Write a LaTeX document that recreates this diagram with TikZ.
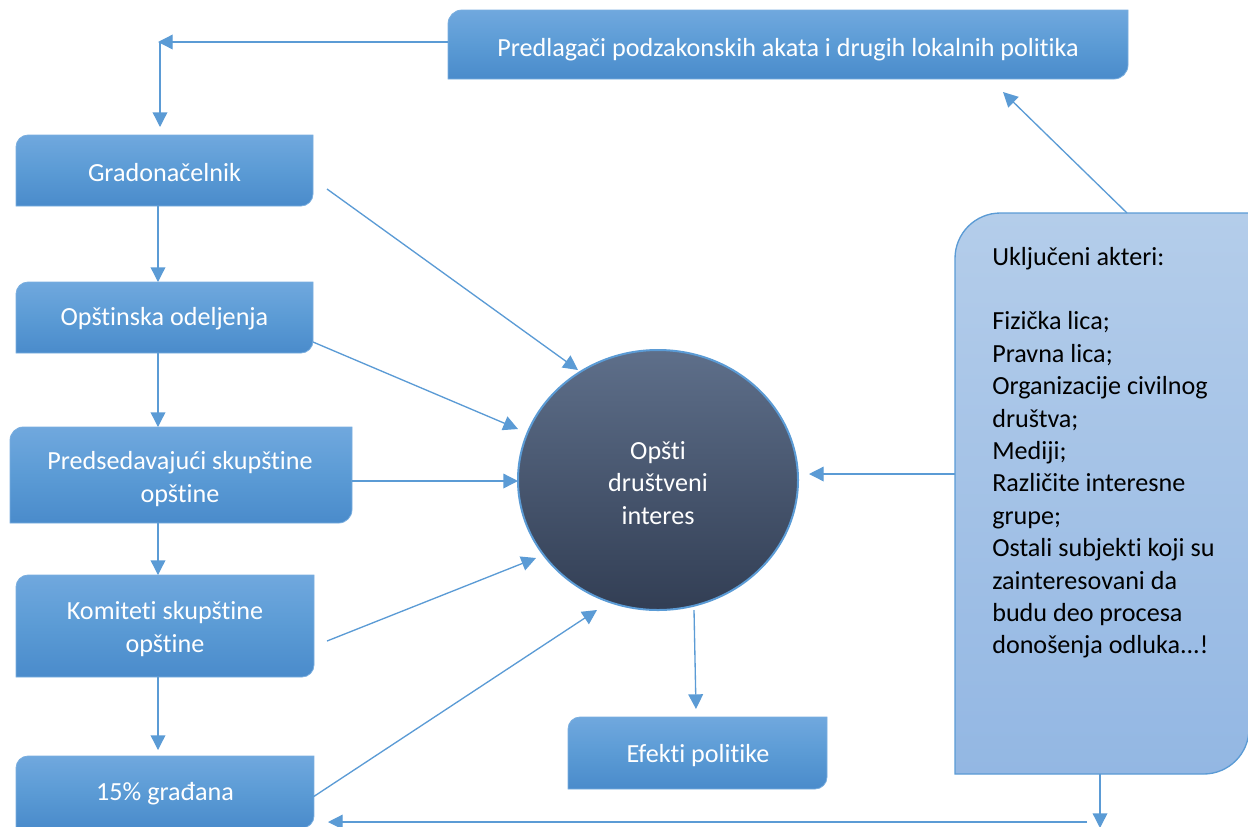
\documentclass[tikz,border=0pt]{standalone}
\usepackage{fontspec}
\setmainfont{Carlito}[Ligatures=NoCommon]
\usetikzlibrary{arrows.meta,calc,shapes.geometric}

\definecolor{linkblue}{HTML}{5B9BD5}
\definecolor{boxtop}{HTML}{70A8DE}
\definecolor{boxmid}{HTML}{5B9BD5}
\definecolor{boxbot}{HTML}{4A8BCB}
\definecolor{boxedge}{HTML}{7AAEDF}
\definecolor{paletop}{HTML}{B4CDEA}
\definecolor{palebot}{HTML}{93B7E3}
\definecolor{hubtop}{HTML}{5E6F8A}
\definecolor{hubbot}{HTML}{323E54}

\newcommand\lbl{\fontsize{19.6pt}{24.3pt}\selectfont}

% outline with the top-left and bottom-right corners rounded
\newcommand\cornerpath[2]{(#1.south west) -- ([yshift=-#2]#1.north west)
  arc[start angle=180,end angle=90,radius=#2] -- (#1.north east)
  -- ([yshift=#2]#1.south east) arc[start angle=0,end angle=-90,radius=#2] -- cycle}

\tikzset{
  slot/.style={rectangle, inner sep=0pt, outer sep=0pt},
  bluebox/.style={top color=boxtop, bottom color=boxbot, middle color=boxmid,
    draw=boxedge, line width=0.6pt},
  palebox/.style={top color=paletop, bottom color=palebot, draw=linkblue, line width=1pt},
  arr/.style={draw=linkblue, line width=1pt, -{Triangle[length=11pt,width=11pt]}},
  wtxt/.style={inner sep=0pt, anchor=base, text=white, font=\lbl},
}

\begin{document}
\begin{tikzpicture}[x=0.75pt,y=0.75pt]
\useasboundingbox (0,0) rectangle (1248,-826);
\clip (0,0) rectangle (1248,-826);

% frames of the boxes
\node[slot, minimum width=510pt,    minimum height=51.75pt] (top)    at (788,-44.5)   {};
\node[slot, minimum width=222.75pt, minimum height=53.25pt] (grad)   at (164.5,-170.5) {};
\node[slot, minimum width=222.75pt, minimum height=53.25pt] (opst)   at (164.5,-317.5) {};
\node[slot, minimum width=256.5pt,  minimum height=72pt]    (pred)   at (181,-475)    {};
\node[slot, minimum width=223.5pt,  minimum height=76.5pt]  (kom)    at (165,-626)    {};
\node[slot, minimum width=223.5pt,  minimum height=54pt]    (gr15)   at (165,-792)    {};
\node[slot, minimum width=194.25pt, minimum height=54pt]    (efekti) at (697.5,-753)  {};
\node[slot, minimum width=220.5pt,  minimum height=420.75pt] (akteri) at (1102,-493.5) {};

% box bodies
\path[bluebox] \cornerpath{top}{10.5pt};
\path[bluebox] \cornerpath{grad}{9pt};
\path[bluebox] \cornerpath{opst}{9pt};
\path[bluebox] \cornerpath{pred}{10pt};
\path[bluebox] \cornerpath{kom}{9pt};
\path[bluebox] \cornerpath{gr15}{9pt};
\path[bluebox] \cornerpath{efekti}{9pt};
\path[palebox] \cornerpath{akteri}{34pt};

% central ellipse
\node[ellipse, minimum width=210pt, minimum height=195pt, inner sep=0pt,
  top color=hubtop, bottom color=hubbot, draw=linkblue, line width=1.5pt] (hub) at (658,-480) {};

% box labels
\node[wtxt] (toptxt) at (788,-56) {Predlagači podzakonskih akata i drugih lokalnih politika};
\node[wtxt] (gradtxt) at (164.5,-181) {Gradonačelnik};
\node[wtxt] (opsttxt) at (164.5,-325) {Opštinska odeljenja};
\node[wtxt] (predtxt1) at (180,-469) {Predsedavajući skupštine};
\node[wtxt] (predtxt2) at (180,-502) {opštine};
\node[wtxt] (komtxt1) at (165,-619) {Komiteti skupštine};
\node[wtxt] (komtxt2) at (165,-652) {opštine};
\node[wtxt] (gr15txt) at (165,-800) {15\% građana};
\node[wtxt] (eftxt) at (698,-762) {Efekti politike};
\node[wtxt] (hubtxt1) at (658,-459) {Opšti};
\node[wtxt] (hubtxt2) at (658,-491) {društveni};
\node[wtxt] (hubtxt3) at (658,-524) {interes};

\node[anchor=base west, inner sep=0pt, font=\lbl, text=black] (aktxt) at (992,-265)
  {\parbox[t]{240pt}{\raggedright Uključeni akteri:\\ \mbox{}\\ Fizička lica;\\ Pravna lica;\\
   Organizacije civilnog\\ društva;\\ Mediji;\\ Različite interesne\\ grupe;\\
   Ostali subjekti koji su\\ zainteresovani da\\ budu deo procesa\\ donošenja odluka...!}};

% connector end points
\coordinate (turn) at (158,-42);
\coordinate (drop) at (160,-42);
\coordinate (vx) at (158,0);
\coordinate (gradout) at (327,-189);
\coordinate (hubin1) at (578,-370);
\coordinate (opstout) at (313,-342);
\coordinate (hubin2) at (518,-429);
\coordinate (hubin3) at (518,-481);
\coordinate (komout) at (327,-641);
\coordinate (hubin4) at (536,-558);
\coordinate (gr15out) at (313,-797);
\coordinate (hubin5) at (597,-610);
\coordinate (hubout) at (694,-610);
\coordinate (efin) at (696,-709);
\coordinate (hubin6) at (809,-474);
\coordinate (aktop) at (1127,-213);
\coordinate (topin) at (1003,-92);
\coordinate (akx) at (1100,0);
\coordinate (edge) at (1100,-828);
\coordinate (retstart) at (1087,-822);
\coordinate (retend) at (328,-822);

% connectors
\draw[arr] (top.west |- turn) -- (turn);
\draw[arr] (drop) -- ($(grad.north -| drop)+(0,8)$);
\draw[arr] (grad.south -| vx) -- (opst.north -| vx);
\draw[arr] (opst.south -| vx) -- (pred.north -| vx);
\draw[arr] (pred.south -| vx) -- (kom.north -| vx);
\draw[arr] (kom.south -| vx) -- ($(gr15.north -| vx)+(0,6)$);

\draw[arr] (gradout) -- (hubin1);
\draw[arr] (opstout) -- (hubin2);
\draw[arr] (pred.east |- hubin3) -- (hubin3);
\draw[arr] (komout) -- (hubin4);
\draw[arr] (gr15out) -- (hubin5);
\draw[arr] (hubout) -- (efin);
\draw[arr] (akteri.west |- hubin6) -- (hubin6);
\draw[arr] (aktop) -- (topin);
\draw[arr] (akteri.south -| akx) -- (edge);
\draw[arr] (retstart) -- (retend);
\end{tikzpicture}
\end{document}
